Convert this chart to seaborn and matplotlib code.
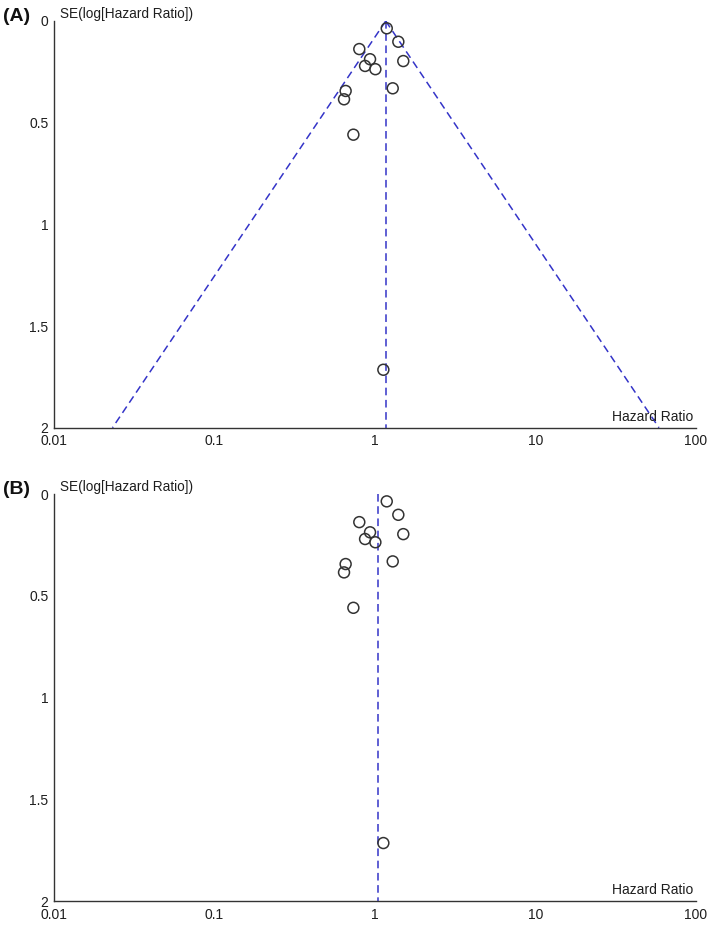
import numpy as np
import matplotlib
matplotlib.use('Agg')
import matplotlib.pyplot as plt
from matplotlib.ticker import FixedLocator, NullLocator
import seaborn as sns

# funnel plot data
hazard_ratio = [1.183, 1.397, 1.50, 0.798, 0.931, 0.867, 1.005, 1.289, 0.656, 0.641, 0.733, 1.127]
se_log_hr = [0.036, 0.102, 0.197, 0.138, 0.188, 0.221, 0.237, 0.331, 0.344, 0.385, 0.559, 1.715]
summary_a = 1.166
summary_b = 1.05
se_max = 2.0
x_ticks = [0.01, 0.1, 1, 10, 100]
x_tick_labels = ['0.01', '0.1', '1', '10', '100']
y_ticks = [0, 0.5, 1, 1.5, 2]
y_tick_labels = ['0', '0.5', '1', '1.5', '2']

sns.set_style('white')
plt.rcParams['font.family'] = ['Liberation Sans', 'DejaVu Sans']

BLUE = '#3434c8'
AXIS = '#333333'

fig = plt.figure(figsize=(7.09, 9.25), dpi=100)
ax_a = fig.add_axes([0.0762, 0.5376, 0.9055, 0.4397])
ax_b = fig.add_axes([0.0762, 0.0259, 0.9055, 0.4400])


def draw_panel(ax, label, summary, funnel):
    sns.scatterplot(x=hazard_ratio, y=se_log_hr, ax=ax, marker='o', s=62,
                    facecolor='none', edgecolor=AXIS, linewidth=1.1, zorder=3)

    # summary line
    ax.plot([summary, summary], [0, se_max], color=BLUE, lw=1.1,
            dashes=(5, 3), zorder=2)
    # pseudo 95% CI funnel
    if funnel:
        se_line = np.array([0, se_max])
        for sign in (-1, 1):
            ax.plot(summary * np.exp(sign * 1.96 * se_line), se_line,
                    color=BLUE, lw=1.1, dashes=(5, 3), zorder=2)

    ax.set_xscale('log')
    ax.set_xlim(0.01, 100)
    ax.set_ylim(se_max, 0)
    ax.xaxis.set_major_locator(FixedLocator(x_ticks))
    ax.xaxis.set_minor_locator(NullLocator())
    ax.set_xticklabels(x_tick_labels)
    ax.set_yticks(y_ticks)
    ax.set_yticklabels(y_tick_labels)
    ax.set_xlabel('')
    ax.set_ylabel('')

    for side in ('top', 'right'):
        ax.spines[side].set_visible(False)
    for side in ('left', 'bottom'):
        ax.spines[side].set_color(AXIS)
        ax.spines[side].set_linewidth(1.0)
    ax.tick_params(axis='both', direction='inout', length=7, width=1.0,
                   color=AXIS, labelsize=10, labelcolor='#1e1e1e', pad=0.5)
    ax.tick_params(axis='x', pad=1.2)

    ax.annotate('SE(log[Hazard Ratio])', xy=(0, 1), xycoords='axes fraction',
                xytext=(4, 0), textcoords='offset points', ha='left', va='bottom',
                fontsize=9.8, color='#1e1e1e')
    ax.annotate('Hazard Ratio', xy=(1, 0), xycoords='axes fraction',
                xytext=(-2, 3), textcoords='offset points', ha='right', va='bottom',
                fontsize=10, color='#1e1e1e')

    pos = ax.get_position()
    fig.text(0.004, pos.y1, label, ha='left', va='baseline',
             fontsize=14, fontweight='bold', color='#111111')


draw_panel(ax_a, '(A)', summary_a, True)
draw_panel(ax_b, '(B)', summary_b, False)

fig.savefig('out.png', dpi=100)
